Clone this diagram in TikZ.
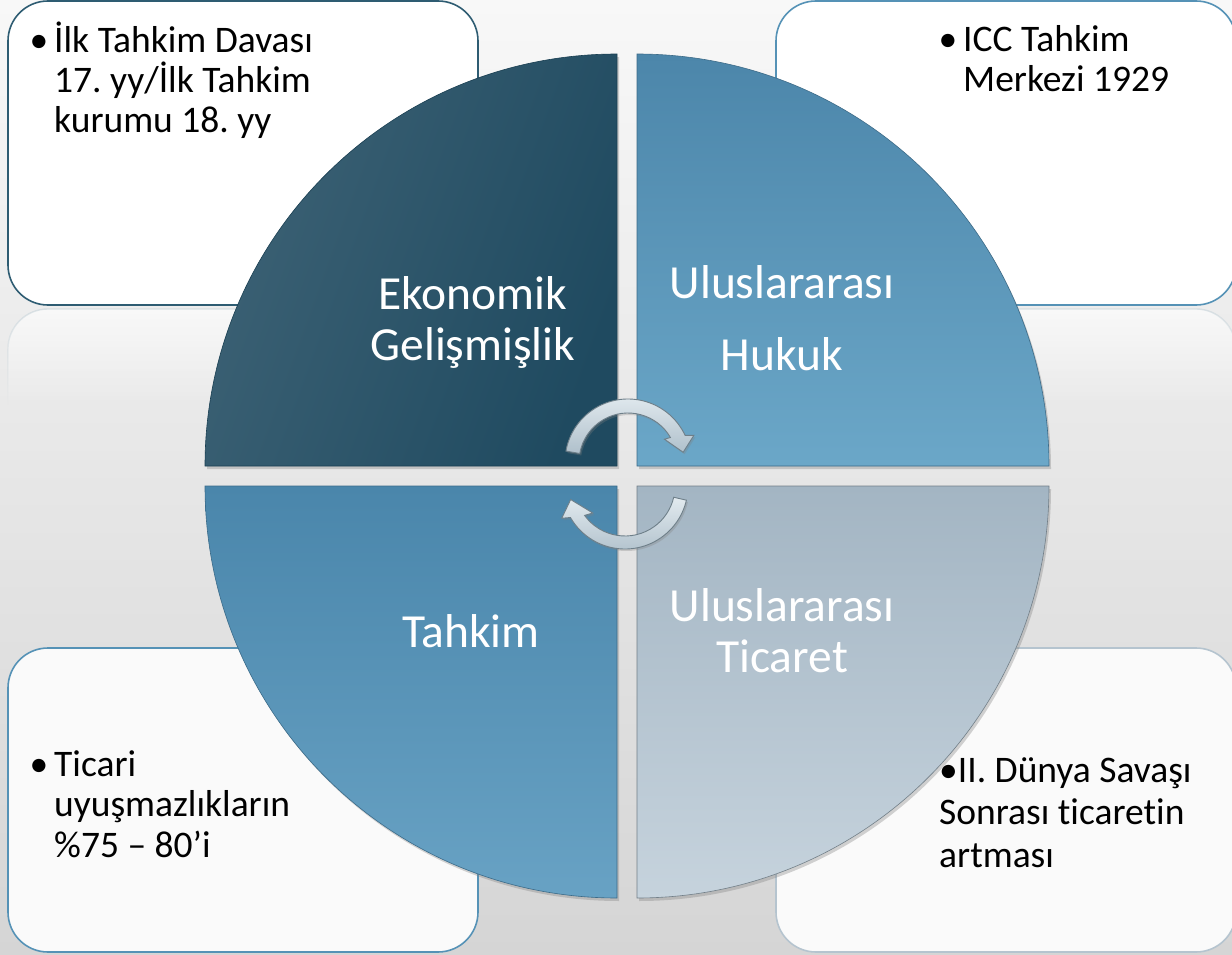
\documentclass[tikz,border=0pt]{standalone}
\usepackage{fontspec}
\setmainfont{Carlito}[Ligatures=NoCommon]
\frenchspacing
\usetikzlibrary{shadows,fadings}

\definecolor{bgtop}{HTML}{F8F8F8}
\definecolor{bgbot}{HTML}{D5D5D5}
\definecolor{ekoL}{HTML}{3D6275}
\definecolor{ekoR}{HTML}{1F4A60}
\definecolor{hukT}{HTML}{4C86AA}
\definecolor{hukB}{HTML}{6BA7C8}
\definecolor{tahT}{HTML}{4A86AB}
\definecolor{tahB}{HTML}{68A2C4}
\definecolor{ticT}{HTML}{A3B5C3}
\definecolor{ticB}{HTML}{C6D3DD}
\definecolor{kenarKoyu}{HTML}{2E5C72}
\definecolor{kenarMavi}{HTML}{5592B6}
\definecolor{kenarGri}{HTML}{B5C4CF}
\definecolor{okUst}{HTML}{E2EAEF}
\definecolor{okAlt}{HTML}{AFC0CB}
\definecolor{okKenar}{HTML}{6E7F89}
\definecolor{yansima}{HTML}{C9D5DB}

\tikzfading[name=yansimafade, top color=transparent!35, bottom color=transparent!100]

\begin{document}
\begin{tikzpicture}[x=1pt, y=-1pt,
    infobox/.style={draw, rounded corners=40pt, line width=1.6pt, fill=white},
    boxtext/.style={anchor=base west, align=left, inner sep=0pt, text=black,
        font=\fontsize{37.5}{40.5}\selectfont},
    quadtext/.style={anchor=base, align=center, inner sep=0pt, text=white,
        font=\fontsize{47.5}{51}\selectfont},
    quad/.style={line width=0.6pt,
        drop shadow={opacity=0.35, shadow xshift=2pt, shadow yshift=-3pt}},
    cyclearrow/.style={draw=okKenar, line width=0.9pt, top color=okUst, bottom color=okAlt,
        drop shadow={opacity=0.3, shadow xshift=1.5pt, shadow yshift=-2pt}}]

    \useasboundingbox (0,0) rectangle (1232,955);

    % === arka plan ===
    \shade[top color=bgtop, bottom color=bgbot] (0,0) rectangle (1232,955);

    % === yansimalar ===
    \draw[yansima, line width=1.4pt, fill=white, path fading=yansimafade, rounded corners=40pt]
        (8,405) |- (478,309) -- (478,405);
    \draw[yansima, line width=1.4pt, fill=white, path fading=yansimafade, rounded corners=40pt]
        (776,405) |- (1236,309) -- (1236,405);

    % === kutular ===
    \node[infobox, draw=kenarKoyu, minimum width=470, minimum height=304] (kutuA) at (243,153) {};
    \node[infobox, draw=kenarMavi, minimum width=460, minimum height=304] (kutuB) at (1006,153) {};
    \node[infobox, draw=kenarMavi, fill=white!98!black, minimum width=470, minimum height=304] (kutuC) at (243,800) {};
    \node[infobox, draw=kenarGri, fill=white!98!black, minimum width=460, minimum height=304] (kutuD) at (1006,800) {};

    % === kutu metinleri (son satirin tabani) ===
    \node[boxtext] (ilk) at (54,133)
        {\llap{\textbullet\hspace{6pt}}İlk Tahkim Davası\\17. yy/İlk Tahkim\\kurumu 18. yy};
    \node[boxtext] (icc) at (963,92)
        {\llap{\textbullet\hspace{6pt}}ICC Tahkim\\Merkezi 1929};
    \node[boxtext] (ticari) at (54,857)
        {\llap{\textbullet\hspace{6pt}}Ticari\\uyuşmazlıkların\\\%75 – 80’i};
    \node[boxtext] (savas) at (939,867)
        {\textbullet II. Dünya Savaşı\\[2pt]Sonrası ticaretin\\[2pt]artması};

    % === daire dilimleri ===
    \path[quad, draw=ekoR!85!black, left color=ekoL, right color=ekoR, shading angle=70]
        (617,466) -- (205,466) arc[start angle=180, end angle=270, radius=412] -- cycle;
    \path[quad, draw=hukT!80!black, top color=hukT, bottom color=hukB]
        (637,466) -- (637,54) arc[start angle=270, end angle=360, radius=412] -- cycle;
    \path[quad, draw=tahT!80!black, top color=tahT, bottom color=tahB]
        (617,486) -- (205,486) arc[start angle=180, end angle=90, radius=412] -- cycle;
    \path[quad, draw=ticT!70!black, top color=ticT, bottom color=ticB]
        (637,486) -- (1049,486) arc[start angle=0, end angle=90, radius=412] -- cycle;

    % === dilim metinleri ===
    \node[quadtext] (eko) at (473,360) {Ekonomik\\Gelişmişlik};
    \node[quadtext] (huk) at (782,370) {Uluslararası\\[21pt]Hukuk};
    \node[quadtext] (tah) at (471,647) {Tahkim};
    \node[quadtext] (tic) at (782,672) {Uluslararası\\Ticaret};

    % === dongu oklari ===
    \path[cyclearrow, shift={(628,462)}]
        (190:63) arc[start angle=190, end angle=335, radius=63]
        -- (338:71) -- (350:56) -- (328:43) -- (330:49)
        arc[start angle=330, end angle=190, radius=49] -- cycle;
    \path[cyclearrow, shift={(625,486)}]
        (13:63) arc[start angle=13, end angle=150, radius=63]
        -- (153:71) -- (166:56) -- (140:42) -- (144:50)
        arc[start angle=144, end angle=13, radius=50] -- cycle;

\end{tikzpicture}
\end{document}
